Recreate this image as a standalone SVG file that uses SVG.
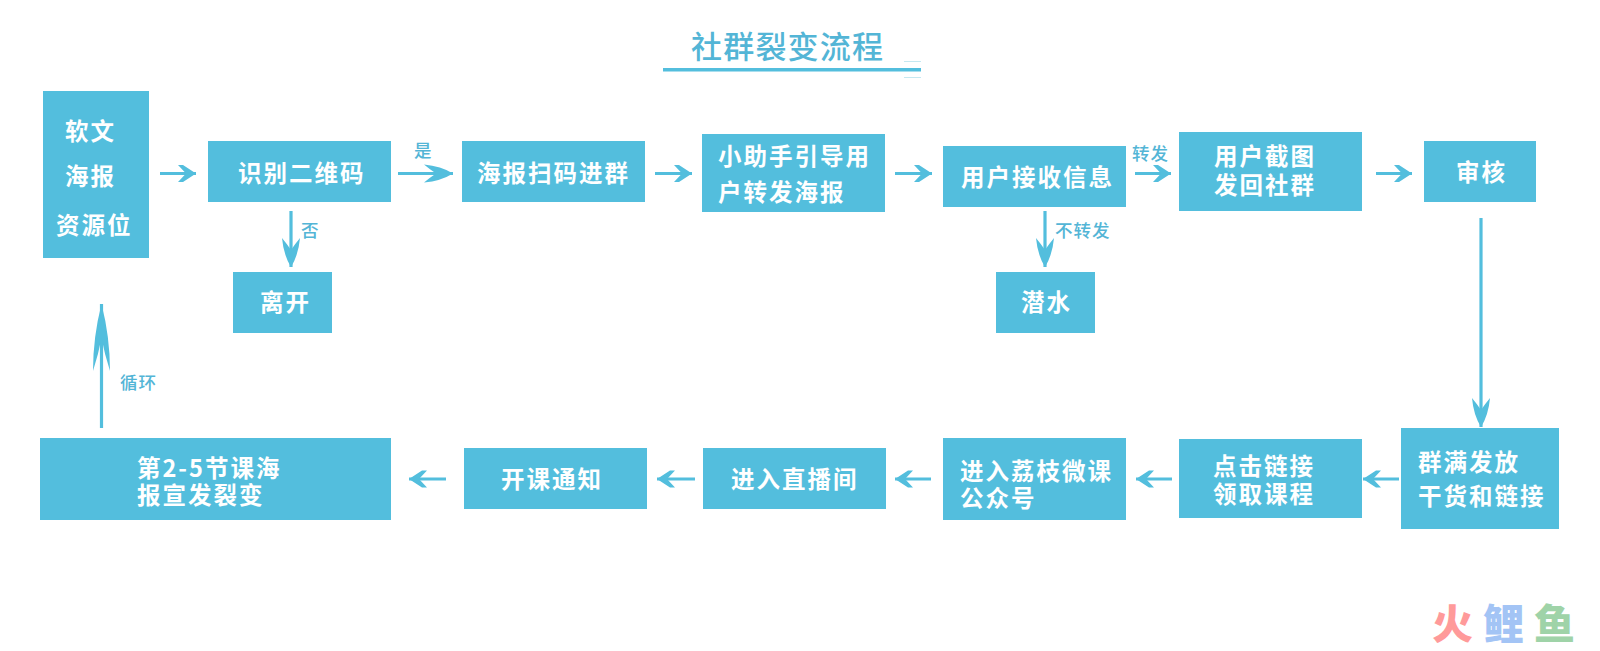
<svg xmlns="http://www.w3.org/2000/svg" width="1600" height="651" viewBox="0 0 1600 651">
<style>
text{font-family:"Noto Sans CJK SC","Noto Sans",sans-serif}
.b{fill:#53bedd}
.t{fill:#fff;font-size:23.5px;font-weight:700;letter-spacing:2px}
.l{fill:#53b5d6;font-size:17.5px;font-weight:500;letter-spacing:1px}
.c{fill:none;stroke:#53bedd;stroke-width:3.200;marker-end:url(#a)}
.w{fill:none;stroke:#53bedd;stroke-width:3.200;marker-end:url(#a2)}
.u{fill:none;stroke:#53bedd;stroke-width:3.200;marker-end:url(#a3)}
</style>
<defs>
<marker id="a" markerUnits="userSpaceOnUse" markerWidth="24" markerHeight="20" refX="20" refY="9" orient="auto"><path d="M2 .5 7 .5 20 9 7 17.500 2 17.500 10 9Z" fill="#53bedd"/></marker>
<marker id="a2" markerUnits="userSpaceOnUse" markerWidth="34" markerHeight="24" refX="30" refY="10" orient="auto"><path d="M1 1Q18 2.500 30 10Q18 17.500 1 19Q7 14 13 10Q7 6 1 1Z" fill="#53bedd"/></marker>
<marker id="a3" markerUnits="userSpaceOnUse" markerWidth="70" markerHeight="24" refX="68" refY="10" orient="auto"><path d="M1 1.500Q35 1.500 68 10Q35 18.500 1 18.500Q18 13 34 10Q18 7 1 1.500Z" fill="#53bedd"/></marker>
</defs>
<rect width="1600" height="651" fill="#fff"/>
<g id="title">
<text x="691" y="58" font-size="31" font-weight="500" fill="#53b5d6" letter-spacing="1.200">社群裂变流程</text>
<rect x="663" y="68" width="258" height="3.500" fill="#53bedd"/>
<path d="M904 61.500H921M904 77.500H921" stroke="#c5e8f1" stroke-width="1" fill="none"/>
</g>
<g id="connectors">
<path class="c" d="M160 173.500H196"/>
<path class="w" d="M398 173.500H453"/>
<path class="c" d="M655 173.500H692"/>
<path class="c" d="M895 173.500H932"/>
<path class="c" d="M1135 173.500H1171"/>
<path class="c" d="M1376 173.500H1412"/>
<path class="w" d="M291 211V267"/>
<path class="w" d="M1045 211V267"/>
<path class="w" d="M1481 218V427"/>
<path class="c" d="M1399 479H1363"/>
<path class="c" d="M1172 479H1136"/>
<path class="c" d="M931 479H895"/>
<path class="c" d="M695 479H657"/>
<path class="c" d="M446 479H409"/>
<path class="u" d="M101.500 428V304"/>
</g>
<g id="n1"><rect class="b" x="43" y="91" width="106" height="167"/><text class="t" x="65" y="140">软文</text><text class="t" x="65" y="185">海报</text><text class="t" x="56" y="234">资源位</text></g>
<g id="n2"><rect class="b" x="208" y="141" width="183" height="61"/><text class="t" x="238" y="182">识别二维码</text></g>
<g id="n3"><rect class="b" x="233" y="272" width="99" height="61"/><text class="t" x="260" y="311">离开</text></g>
<g id="n4"><rect class="b" x="462" y="141" width="183" height="61"/><text class="t" x="477" y="182">海报扫码进群</text></g>
<g id="n5"><rect class="b" x="702" y="134" width="183" height="78"/><text class="t" x="718" y="165">小助手引导用<tspan x="718" y="201">户转发海报</tspan></text></g>
<g id="n6"><rect class="b" x="943" y="146" width="183" height="61"/><text class="t" x="961" y="186">用户接收信息</text></g>
<g id="n7"><rect class="b" x="996" y="272" width="99" height="61"/><text class="t" x="1021" y="311">潜水</text></g>
<g id="n8"><rect class="b" x="1179" y="132" width="183" height="79"/><text class="t" x="1214" y="165">用户截图<tspan x="1214" y="194">发回社群</tspan></text></g>
<g id="n9"><rect class="b" x="1424" y="141" width="112" height="61"/><text class="t" x="1456" y="181">审核</text></g>
<g id="n10"><rect class="b" x="1401" y="428" width="158" height="101"/><text class="t" x="1418" y="471">群满发放<tspan x="1418" y="505">干货和链接</tspan></text></g>
<g id="n11"><rect class="b" x="1179" y="439" width="183" height="79"/><text class="t" x="1213" y="475">点击链接<tspan x="1213" y="503">领取课程</tspan></text></g>
<g id="n12"><rect class="b" x="943" y="438" width="183" height="82"/><text class="t" x="960" y="480">进入荔枝微课<tspan x="960" y="507">公众号</tspan></text></g>
<g id="n13"><rect class="b" x="703" y="448" width="183" height="61"/><text class="t" x="731" y="488">进入直播间</text></g>
<g id="n14"><rect class="b" x="464" y="448" width="183" height="61"/><text class="t" x="501" y="488">开课通知</text></g>
<g id="n15"><rect class="b" x="40" y="438" width="351" height="82"/><text class="t" x="137" y="477" letter-spacing="1.600">第2-5节课海<tspan x="137" y="504">报宣发裂变</tspan></text></g>
<g id="labels">
<text class="l" x="414" y="157">是</text>
<text class="l" x="301" y="237">否</text>
<text class="l" x="1132" y="160">转发</text>
<text class="l" x="1055" y="237">不转发</text>
<text class="l" x="120" y="389">循环</text>
</g>
<g id="logo" font-size="41" font-weight="900">
<text x="1432" y="639" fill="#ff9a9a">火</text>
<text x="1483" y="639" fill="#a3c4f5">鲤</text>
<text x="1534" y="639" fill="#9fd3a8">鱼</text>
</g>
</svg>
